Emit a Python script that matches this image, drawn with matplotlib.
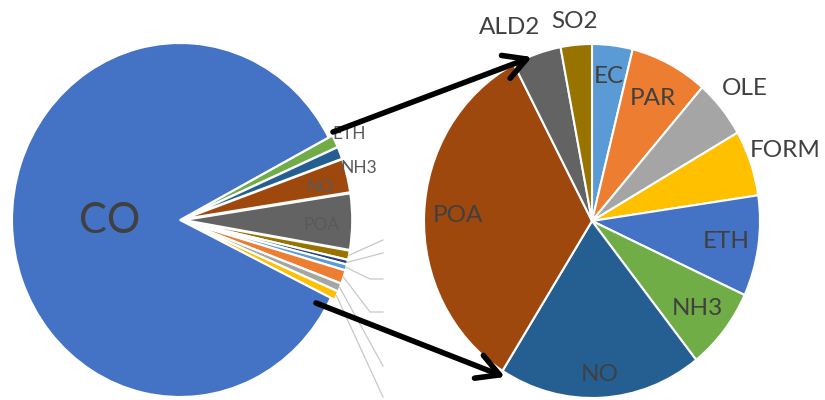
import numpy as np
import matplotlib
matplotlib.use("Agg")
import matplotlib.pyplot as plt

plt.rcParams["font.family"] = ["Lato", "DejaVu Sans"]

# main pie: share of each species (percent)
left_names = ["ETH", "NH3", "NO", "POA", "SO2", "ALD2", "EC", "PAR", "OLE", "FORM", "CO"]
left_values = [1.14, 1.11, 3.06, 5.11, 0.83, 0.42, 0.53, 1.22, 0.75, 0.81, 85.0]
left_colors = ["#70AD47", "#255E91", "#9E480E", "#636363", "#997300", "#264478",
               "#5B9BD5", "#ED7D31", "#A5A5A5", "#FFC000", "#4472C4"]

# breakdown of the non-CO part (percent)
right_names = ["EC", "PAR", "OLE", "FORM", "ETH", "NH3", "NO", "POA", "ALD2", "SO2"]
right_values = [3.9, 7.5, 5.3, 6.0, 9.2, 7.5, 19.6, 33.4, 4.7, 3.0]
right_colors = ["#5B9BD5", "#ED7D31", "#A5A5A5", "#FFC000", "#4472C4", "#70AD47",
                "#255E91", "#9E480E", "#636363", "#997300"]

# layout in pixels
W, H = 825, 400
RX, RY = 168, 177
PAD = 1.2
LEFT_C = (180, 220)
RIGHT_C = (592, 221)
TEXT = "#404040"

# label placement: (distance from wedge centre, angle nudge in degrees)
left_label_pos = {"CO": (0.42, 0), "ETH": (1.09, 0), "NH3": (1.08, -6.5),
                  "NO": (0.83, -1.5), "POA": (0.82, -1.3)}
right_label_pos = {"EC": (0.82, 0), "PAR": (0.78, 0), "OLE": (1.18, 0),
                   "FORM": (1.22, 0), "ETH": (0.81, 0), "NH3": (0.80, 0),
                   "NO": (0.87, 0), "POA": (0.80, 0), "ALD2": (1.2, 5),
                   "SO2": (1.13, 0)}
# leader lines for the small slices, ending at the crop edge
leader_ends = {"SO2": [(383, 240)], "ALD2": [(383, 253)],
               "EC": [(370, 279), (383, 279)], "PAR": [(370, 312), (383, 312)],
               "OLE": [(383, 366)], "FORM": [(383, 397)]}
arrows = [((333, 132), (532, 57)), ((316, 303), (505, 377))]


def pie_axes(fig, center):
    cx, cy = center
    return fig.add_axes([(cx - PAD * RX) / W, 1 - (cy + PAD * RY) / H,
                         2 * PAD * RX / W, 2 * PAD * RY / H])


def finish(ax):
    ax.set_aspect("auto")
    ax.set_xlim(-PAD, PAD)
    ax.set_ylim(-PAD, PAD)
    ax.axis("off")


def polar(wedge, dist, nudge=0.0):
    ang = np.deg2rad((wedge.theta1 + wedge.theta2) / 2 + nudge)
    x0, y0 = wedge.center
    return x0 + dist * np.cos(ang), y0 + dist * np.sin(ang)


def to_px(center, x, y):
    return center[0] + x * RX, center[1] - y * RY


fig = plt.figure(figsize=(W / 100, H / 100), dpi=100)

# left pie, small slices pulled out a little
ax_l = pie_axes(fig, LEFT_C)
explode = [0.025] * (len(left_values) - 1) + [0.0]
left_wedges, _ = ax_l.pie(left_values, colors=left_colors, startangle=27.8,
                          counterclock=False, explode=explode,
                          wedgeprops=dict(edgecolor="white", linewidth=1.5))
finish(ax_l)

for w, name in zip(left_wedges, left_names):
    if name in left_label_pos:
        d, nudge = left_label_pos[name]
        x, y = polar(w, d, nudge)
        size = 30 if name == "CO" else 12.5
        ax_l.text(x, y, name, ha="center", va="center", fontsize=size,
                  color=TEXT if name == "CO" else "#595959")

# right pie
ax_r = pie_axes(fig, RIGHT_C)
right_wedges, _ = ax_r.pie(right_values, colors=right_colors, startangle=90,
                           counterclock=False,
                           wedgeprops=dict(edgecolor="white", linewidth=1.5))
finish(ax_r)

for w, name in zip(right_wedges, right_names):
    d, nudge = right_label_pos[name]
    x, y = polar(w, d, nudge)
    ax_r.text(x, y, name, ha="center", va="center", fontsize=17.5, color=TEXT)

# overlay in pixel coordinates for leader lines and arrows
ov = fig.add_axes([0, 0, 1, 1])
ov.set_xlim(0, W)
ov.set_ylim(H, 0)
ov.axis("off")

for w, name in zip(left_wedges, left_names):
    if name in leader_ends:
        sx, sy = to_px(LEFT_C, *polar(w, 1.0))
        pts = [(sx, sy)] + leader_ends[name]
        xs, ys = zip(*pts)
        ov.plot(xs, ys, color="#C8C8C8", lw=0.9)

for start, end in arrows:
    ov.annotate("", xy=end, xytext=start,
                arrowprops=dict(arrowstyle="->,head_length=0.4,head_width=0.22",
                                lw=4, color="black", mutation_scale=40,
                                shrinkA=0, shrinkB=0))

fig.savefig("out.png", dpi=100)
